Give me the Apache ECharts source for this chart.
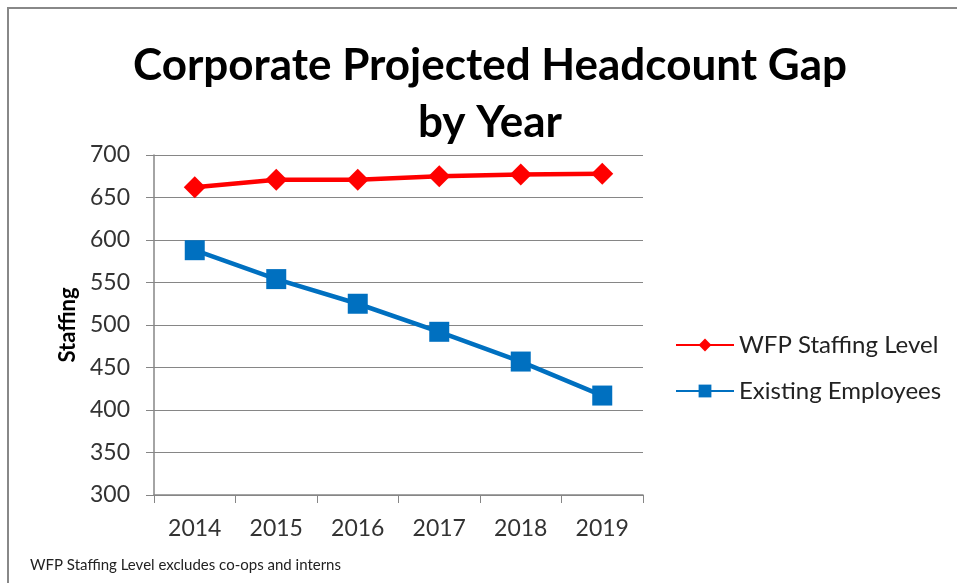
<!DOCTYPE html>
<html>
<head>
<meta charset="utf-8">
<script src="https://cdn.jsdelivr.net/npm/echarts@6/dist/echarts.min.js"></script>
<style>
html,body{margin:0;padding:0;background:#fff;}
#chart{width:957px;height:583px;}
</style>
</head>
<body>
<div id="chart"></div>
<script>
const years = ['2014', '2015', '2016', '2017', '2018', '2019'];
const wfpStaffing = [662, 671, 671, 675, 677, 678];
const existingEmployees = [588, 554, 525, 492, 457, 417];
const titleText = 'Corporate Projected Headcount Gap\nby Year';
const yAxisName = 'Staffing';
const footnote = 'WFP Staffing Level excludes co-ops and interns';

const FONT = 'Lato, "Open Sans", sans-serif';
const chart = echarts.init(document.getElementById('chart'), null, {renderer: 'canvas'});
chart.setOption({
  animation: false,
  backgroundColor: '#fff',
  title: {
    text: titleText,
    left: 485,
    top: 32,
    textAlign: 'center',
    textStyle: {fontFamily: FONT, fontWeight: 'bold', fontSize: 44, lineHeight: 57, color: '#000'}
  },
  grid: {left: 154, right: 314, top: 155, bottom: 88, containLabel: false},
  legend: {
    orient: 'vertical',
    left: 670,
    top: 328,
    itemWidth: 58,
    itemHeight: 16,
    itemGap: 22,
    textStyle: {fontFamily: FONT, fontSize: 24, color: '#222'},
    data: ['WFP Staffing Level', 'Existing Employees']
  },
  xAxis: {
    type: 'category',
    data: years,
    boundaryGap: true,
    axisLine: {lineStyle: {color: '#868686', width: 1.5}},
    axisTick: {show: true, length: 8, lineStyle: {color: '#868686'}},
    axisLabel: {fontFamily: FONT, fontSize: 23, color: '#333', margin: 22}
  },
  yAxis: {
    type: 'value',
    min: 300,
    max: 700,
    interval: 50,
    name: yAxisName,
    nameLocation: 'middle',
    nameGap: 74,
    nameRotate: 90,
    nameTextStyle: {fontFamily: FONT, fontWeight: 'bold', fontSize: 22, color: '#000'},
    axisLine: {show: true, lineStyle: {color: '#868686', width: 1.5}},
    axisTick: {show: true, length: 8, lineStyle: {color: '#868686'}},
    splitLine: {show: true, lineStyle: {color: '#868686', width: 1.2}},
    axisLabel: {fontFamily: FONT, fontSize: 23, color: '#333', margin: 24}
  },
  series: [
    {
      name: 'WFP Staffing Level',
      type: 'line',
      data: wfpStaffing,
      symbol: 'diamond',
      symbolSize: 22,
      lineStyle: {color: '#FF0000', width: 4.5},
      itemStyle: {color: '#FF0000'}
    },
    {
      name: 'Existing Employees',
      type: 'line',
      data: existingEmployees,
      symbol: 'rect',
      symbolSize: 20,
      lineStyle: {color: '#0070C0', width: 4.5},
      itemStyle: {color: '#0070C0'}
    }
  ],
  graphic: [
    {type: 'line', shape: {x1: 7, y1: 8, x2: 957, y2: 8}, style: {stroke: '#888', lineWidth: 2}},
    {type: 'line', shape: {x1: 8, y1: 7, x2: 8, y2: 583}, style: {stroke: '#888', lineWidth: 2}},
    {type: 'text', left: 30, top: 558, style: {text: footnote, font: '15px ' + FONT, fill: '#222'}}
  ]
});
</script>
</body>
</html>
